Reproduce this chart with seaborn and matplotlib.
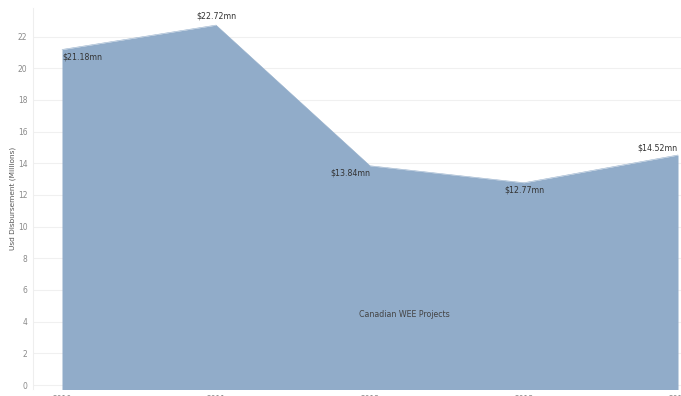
import matplotlib
matplotlib.use("Agg")
import matplotlib.pyplot as plt
import seaborn as sns
import pandas as pd

years = [2010, 2011, 2012, 2013, 2014]
values = [21.18, 22.72, 13.84, 12.77, 14.52]
labels = ["$21.18mn", "$22.72mn", "$13.84mn", "$12.77mn", "$14.52mn"]
yticks = list(range(0, 23, 2))

sns.set_theme(style="white")
plt.rcParams['font.family'] = ['DejaVu Sans']

df = pd.DataFrame({"year": years, "value": values})
color = "#91acc9"

fig = plt.figure(figsize=(6.81, 3.96), dpi=100)
ax = fig.add_axes([33/681, (396-389)/396, 1 - 33/681, (389-8)/396])
ax.fill_between(df["year"], df["value"], -0.3, color=color, linewidth=0)
sns.lineplot(data=df, x="year", y="value", ax=ax, color=color, linewidth=0.4)

ax.set_xlim(2010 - 29/154, 2014 + 3/154)
ax.set_ylim(-0.25, 23.8)
ax.set_yticks(yticks)
ax.set_yticklabels([str(t) for t in yticks], fontsize=5.5, color="#8a8a8a")
ax.set_xticks(years)
ax.set_xticklabels([str(y) for y in years], fontsize=5.5, color="#8a8a8a")
ax.tick_params(axis="both", length=0, pad=4)
ax.set_xlabel("")
ax.set_ylabel("Usd Disbursement (Millions)", fontsize=5.3, color="#555555", labelpad=1.5)
ax.grid(axis="y", color="#f0f0f0", linewidth=0.8)
ax.set_axisbelow(True)
for s in ["top", "right", "bottom"]:
    ax.spines[s].set_visible(False)
ax.spines["left"].set_color("#eeeeee")
ax.spines["left"].set_linewidth(0.8)

txt = dict(fontsize=5.7, color="#333333")
ax.annotate(labels[0], (years[0], values[0]), xytext=(0, -2), textcoords="offset points", ha="left", va="top", **txt)
ax.annotate(labels[1], (years[1], values[1]), xytext=(0, 3), textcoords="offset points", ha="center", va="bottom", **txt)
ax.annotate(labels[2], (years[2], values[2]), xytext=(0, -2), textcoords="offset points", ha="right", va="top", **txt)
ax.annotate(labels[3], (years[3], values[3]), xytext=(0, -2), textcoords="offset points", ha="center", va="top", **txt)
ax.annotate(labels[4], (years[4], values[4]), xytext=(0, 2), textcoords="offset points", ha="right", va="bottom", **txt)
ax.text(2012.22, 4.45, "Canadian WEE Projects", fontsize=5.7, color="#444444", ha="center", va="center")

fig.savefig("out.png", dpi=100)
